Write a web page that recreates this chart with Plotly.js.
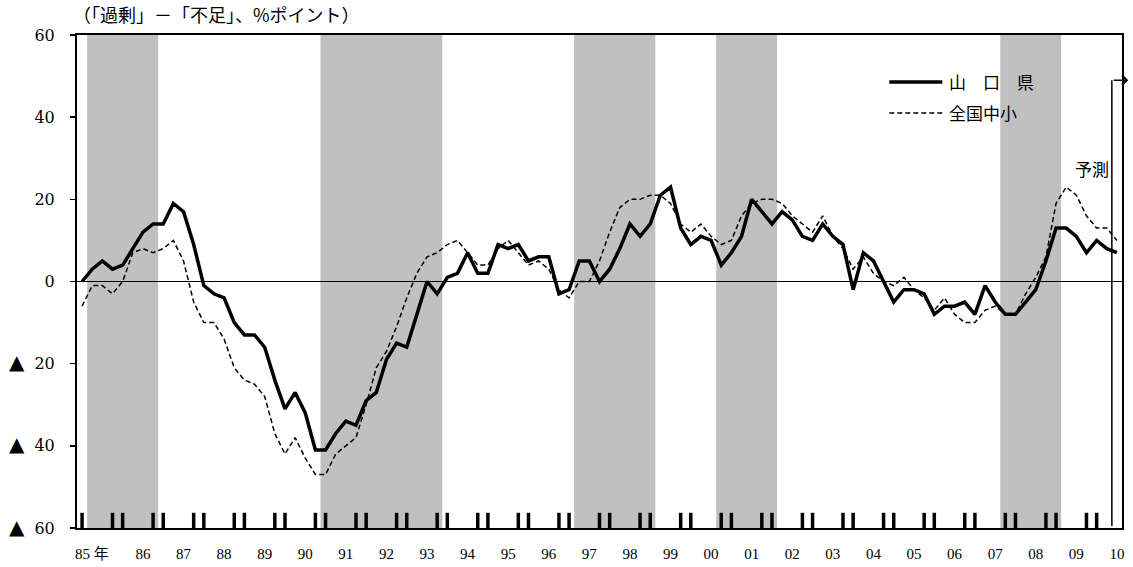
<!DOCTYPE html>
<html>
<head>
<meta charset="utf-8">
<script src="https://cdn.plot.ly/plotly-3.0.1.min.js"></script>
<style>html,body{margin:0;padding:0;background:#fff;}#chart{width:1133px;height:567px;}</style>
</head>
<body>
<div id="chart"></div>
<script>
// ---- data (quarterly, 1985Q1 .. 2010Q3; last quarter = forecast) ----
const years = [1985,1986,1987,1988,1989,1990,1991,1992,1993,1994,1995,1996,1997,1998,1999,2000,2001,2002,2003,2004,2005,2006,2007,2008,2009,2010];
const yamaguchi = [
  0, 3, 5, 3,   4, 8, 12, 14,   14, 19, 17, 9,   -1, -3, -4, -10,
  -13, -13, -16, -24,   -31, -27, -32, -41,   -41, -37, -34, -35,   -29, -27, -19, -15,
  -16, -8, 0, -3,   1, 2, 7, 2,   2, 9, 8, 9,   5, 6, 6, -3,
  -2, 5, 5, 0,   3, 8, 14, 11,   14, 21, 23, 13,   9, 11, 10, 4,
  7, 11, 20, 17,   14, 17, 15, 11,   10, 14, 11, 9,   -2, 7, 5, 0,
  -5, -2, -2, -3,   -8, -6, -6, -5,   -8, -1, -5, -8,   -8, -5, -2, 5,
  13, 13, 11, 7,   10, 8, 7
];
const national = [
  -6, -1, -1, -3,   0, 7, 8, 7,   8, 10, 5, -5,   -10, -10, -14, -21,
  -24, -25, -28, -37,   -42, -38, -43, -47,   -47, -42, -40, -38,   -30, -21, -17, -11,
  -4, 2, 6, 7,   9, 10, 7, 4,   4, 8, 10, 7,   4, 5, 3, -2,
  -4, 0, 0, 5,   12, 18, 20, 20,   21, 21, 19, 14,   12, 14, 11, 9,
  10, 16, 19, 20,   20, 19, 16, 14,   12, 16, 11, 8,   3, 6, 2, 0,
  -1, 1, -2, -4,   -7, -4, -8, -10,   -10, -7, -6, -8,   -8, -3, 1, 6,
  19, 23, 21, 16,   13, 13, 10
];
const seriesNames = ["山\u3000口\u3000県", "全国中小"];
const yearTickLabels = ["85 年","86","87","88","89","90","91","92","93","94","95","96","97","98","99","00","01","02","03","04","05","06","07","08","09","10"];
const recessions = [["85Q2","86Q4"],["91Q1","93Q4"],["97Q2","99Q1"],["00Q4","02Q1"],["07Q4","09Q1"]];
const forecastFrom = "10Q3";
const yTickVals = [-60,-40,-20,0,20,40,60];
const yTickText = ["60","40","20","0","20","40","60"];
const negMark = "▲";
const unitLabel = "（「過剰」－「不足」、%ポイント）";
const forecastLabel = "予測";

// ---- derived categories ----
const quarters = [];
years.forEach(y => { for (let q = 1; q <= 4; q++) quarters.push(String(y).slice(2) + "Q" + q); });
const qIdx = q => quarters.indexOf(q);
const xs = yamaguchi.map((_, i) => i);
const nQ = yamaguchi.length;

// tick label positions: first year label near its Q2, others at Q3
const tickVals = years.map((y, k) => k === 0 ? qIdx(String(y).slice(2) + "Q2") - 0.03 : qIdx(String(y).slice(2) + "Q3"));

const yTickLabels = yTickVals.map((v, i) => v < 0
  ? "<span style=\"font-size:20px\">" + negMark + "</span>\u00a0\u00a0" + yTickText[i]
  : yTickText[i]);

const shapes = [];
// recession shading
recessions.forEach(([a, b]) => {
  shapes.push({type:"rect", layer:"below", xref:"x", yref:"paper", x0:qIdx(a)-0.5, x1:qIdx(b)+0.5, y0:0, y1:1,
    fillcolor:"#c0c0c0", line:{width:0}});
});
// year boundary marks along the bottom (Q4 of previous year and Q1)
years.forEach(y => {
  const q1 = qIdx(String(y).slice(2) + "Q1");
  [q1 - 1, q1].forEach(ix => {
    if (ix >= 0 && ix < nQ) shapes.push({type:"line", layer:"above", xref:"x", yref:"y", x0:ix, x1:ix, y0:-60, y1:-56.3,
      line:{color:"#000", width:3.5}});
  });
});
// forecast marker vertical line
const fx = qIdx(forecastFrom) - 0.5;
shapes.push({type:"line", xref:"x", yref:"y", x0:fx, x1:fx, y0:-59.5, y1:49, line:{color:"#000", width:1.5}});
// legend samples
shapes.push({type:"line", xref:"paper", yref:"paper", x0:0.7773, x1:0.8281, y0:0.9047, y1:0.9047, line:{color:"#000", width:3.5}});
shapes.push({type:"line", xref:"paper", yref:"paper", x0:0.7773, x1:0.8281, y0:0.8418, y1:0.8418, line:{color:"#000", width:1.5, dash:"5px,3px"}});

const serif = "'DejaVu Serif', 'Liberation Serif', 'Noto Sans CJK JP', serif";
const jp = "'Noto Sans CJK JP', 'Liberation Serif', serif";

const traces = [
  {x: xs, y: national, type:"scatter", mode:"lines", name: seriesNames[1],
   line:{color:"#000", width:1.5, dash:"5px,3px"}, hoverinfo:"skip"},
  {x: xs, y: yamaguchi, type:"scatter", mode:"lines", name: seriesNames[0],
   line:{color:"#000", width:3.5}, hoverinfo:"skip"}
];

const annotations = [
  {xref:"paper", yref:"paper", x:-0.006, y:1.042, xanchor:"left", yanchor:"middle", showarrow:false,
   text: unitLabel, font:{family:jp, size:18, color:"#000"}},
  {xref:"paper", yref:"paper", x:0.8325, y:0.9047, xanchor:"left", yanchor:"middle", showarrow:false,
   text: seriesNames[0], font:{family:jp, size:17, color:"#000"}},
  {xref:"paper", yref:"paper", x:0.8325, y:0.8418, xanchor:"left", yanchor:"middle", showarrow:false,
   text: seriesNames[1], font:{family:jp, size:17, color:"#000"}},
  {xref:"paper", yref:"paper", x:0.9716, y:0.7302, xanchor:"center", yanchor:"middle", showarrow:false,
   text: forecastLabel, font:{family:jp, size:17, color:"#000"}},
  {xref:"paper", yref:"y", x:1.006, y:49, showarrow:true, axref:"pixel", ayref:"pixel", ax:-16, ay:0,
   arrowhead:4, arrowsize:1.2, arrowwidth:1.5, arrowcolor:"#000", text:""}
];

const layout = {
  width:1133, height:567,
  margin:{l:77, r:11, t:35, b:39},
  paper_bgcolor:"#fff", plot_bgcolor:"#fff",
  showlegend:false,
  xaxis:{range:[-0.5, nQ - 0.5], showgrid:false, zeroline:false, showline:true, mirror:true,
    linecolor:"#000", linewidth:2, ticks:"", tickmode:"array", tickvals:tickVals, ticktext:yearTickLabels,
    tickfont:{family:"'Liberation Serif', 'Noto Sans CJK JP', serif", size:15, color:"#000"}, ticklabelstandoff:11},
  yaxis:{range:[-60, 60], showgrid:false, zeroline:true, zerolinecolor:"#000", zerolinewidth:1.5,
    showline:true, mirror:true, linecolor:"#000", linewidth:2, ticks:"outside", ticklen:5, tickwidth:1.5, tickcolor:"#000",
    tickmode:"array", tickvals:yTickVals, ticktext:yTickLabels, tickfont:{family:serif, size:16, color:"#000"}, ticklabelstandoff:12},
  shapes: shapes,
  annotations: annotations
};

Plotly.newPlot("chart", traces, layout, {staticPlot:true, displayModeBar:false});
</script>
</body>
</html>
